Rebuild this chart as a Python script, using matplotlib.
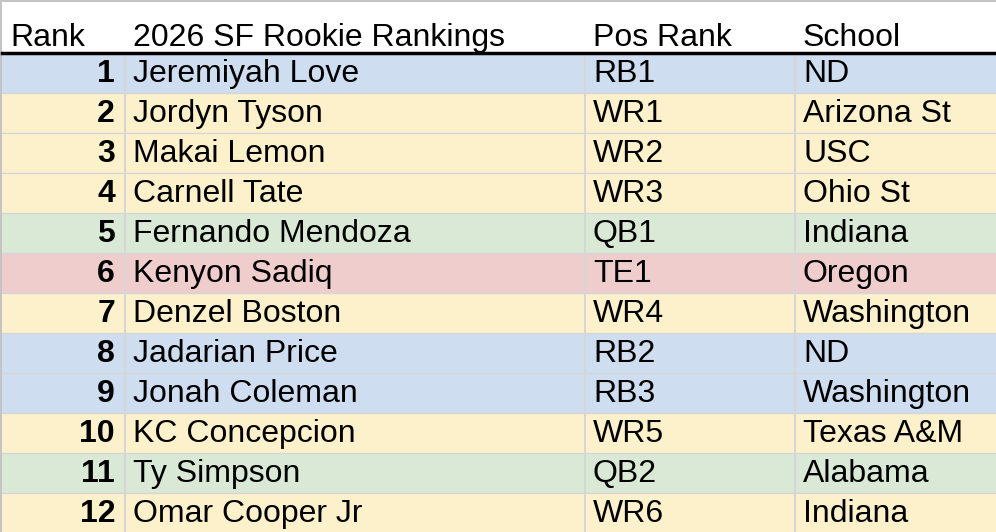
import matplotlib as mpl
mpl.use('Agg')
import matplotlib.pyplot as plt
from matplotlib.patches import Rectangle

headers = ['Rank', '2026 SF Rookie Rankings', 'Pos Rank', 'School']
ranks = [1, 2, 3, 4, 5, 6, 7, 8, 9, 10, 11, 12]
players = ['Jeremiyah Love', 'Jordyn Tyson', 'Makai Lemon', 'Carnell Tate',
           'Fernando Mendoza', 'Kenyon Sadiq', 'Denzel Boston', 'Jadarian Price',
           'Jonah Coleman', 'KC Concepcion', 'Ty Simpson', 'Omar Cooper Jr']
pos_ranks = ['RB1', 'WR1', 'WR2', 'WR3', 'QB1', 'TE1', 'WR4', 'RB2', 'RB3',
             'WR5', 'QB2', 'WR6']
schools = ['ND', 'Arizona St', 'USC', 'Ohio St', 'Indiana', 'Oregon',
           'Washington', 'ND', 'Washington', 'Texas A&M', 'Alabama', 'Indiana']

pos_colors = {'RB': '#cfddf0', 'WR': '#fdf1cc', 'QB': '#d9e9d6', 'TE': '#f0cdcd'}

W, H = 996, 532
col_x = [2, 125, 585, 795, W]
header_h = 53
row_h = 40
fs = 23

fig = plt.figure(figsize=(W / 100, H / 100), dpi=100)
ax = fig.add_axes([0, 0, 1, 1])
ax.set_xlim(0, W)
ax.set_ylim(H, 0)
ax.axis('off')

font = 'Liberation Sans'
grid = '#d6d6d6'

# outer gray border (top/left)
ax.add_patch(Rectangle((0, 0), W, 2, color='#c4c4c4', lw=0))
ax.add_patch(Rectangle((0, 0), 2, H, color='#c4c4c4', lw=0))

for j, h in enumerate(headers):
    ax.text(col_x[j] + 8, header_h - 7, h, fontsize=fs, family=font,
            va='baseline', ha='left')

for i in range(len(ranks)):
    y0 = header_h + i * row_h
    c = pos_colors[pos_ranks[i][:2]]
    ax.add_patch(Rectangle((2, y0), W - 2, row_h, color=c, lw=0))
    ax.plot([2, W], [y0 + row_h, y0 + row_h], color=grid, lw=1)
    yc = y0 + row_h / 2 + 1
    ax.text(col_x[1] - 10, yc, str(ranks[i]), fontsize=fs, family=font,
            weight='bold', ha='right', va='center')
    ax.text(col_x[1] + 8, yc, players[i], fontsize=fs, family=font, va='center')
    ax.text(col_x[2] + 8, yc, pos_ranks[i], fontsize=fs, family=font, va='center')
    ax.text(col_x[3] + 8, yc, schools[i], fontsize=fs, family=font, va='center')

for x in col_x[1:4]:
    ax.plot([x, x], [header_h, H], color=grid, lw=1.5)
ax.plot([2, W], [header_h, header_h], color='black', lw=2.5)

fig.savefig('out.png', dpi=100)
